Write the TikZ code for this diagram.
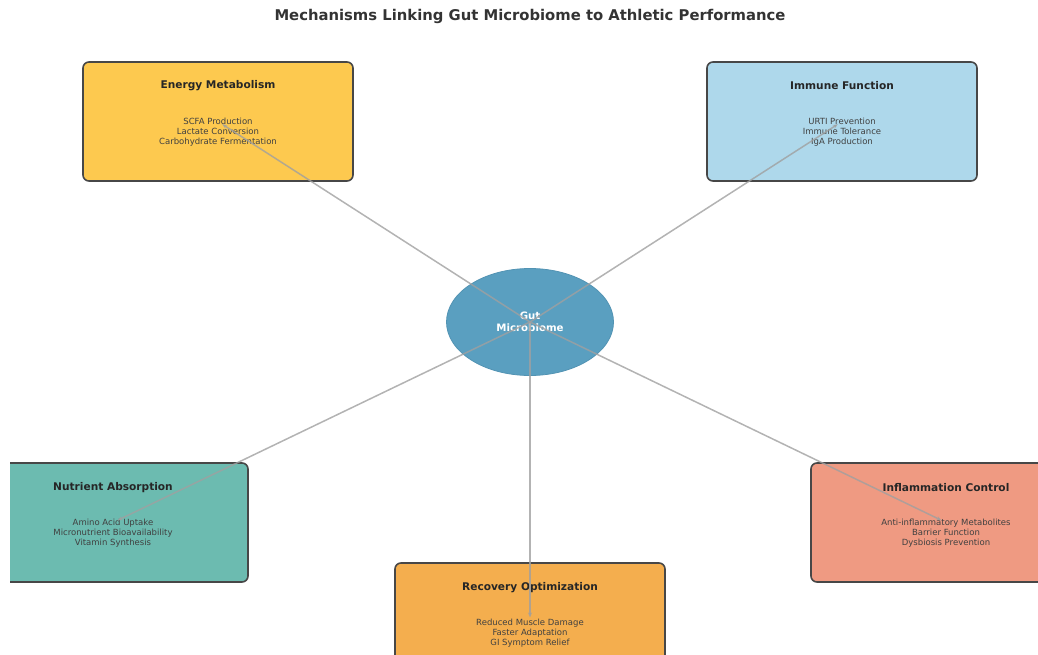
\documentclass[tikz,border=0pt]{standalone}
\usepackage{fontspec}
\setmainfont{DejaVu Sans}
\usetikzlibrary{shapes.geometric,arrows.meta}
\definecolor{cEnergy}{HTML}{FDC94F}
\definecolor{cImmune}{HTML}{AED8EB}
\definecolor{cNutr}{HTML}{6CBBB0}
\definecolor{cRecov}{HTML}{F4AE4E}
\definecolor{cInfl}{HTML}{EF9A82}
\definecolor{cGut}{HTML}{5A9FC0}
\definecolor{cGutB}{HTML}{5293B3}
\definecolor{cBorder}{HTML}{474747}
\definecolor{cLink}{HTML}{A0A0A0}
\tikzset{
  mechbox/.style={draw=cBorder, line width=1.6pt, rounded corners=6pt,
    minimum width=270pt, minimum height=119pt, inner sep=0pt},
  boxtitle/.style={font=\bfseries\fontsize{10.6}{12}\selectfont, text=black!85},
  boxitems/.style={font=\fontsize{8.5}{9.7}\selectfont, text=black!75, align=center},
  link/.style={draw=cLink, line width=1.5pt, opacity=0.8, shorten >=5pt,
    -{Stealth[length=5pt,width=4pt]}},
}
\begin{document}
\begin{tikzpicture}[x=1pt,y=-1pt]
\useasboundingbox (0,0) rectangle (1038,655);
\node[font=\bfseries\fontsize{14.8}{17}\selectfont, text=black!80] (title) at (530,16.5) {Mechanisms Linking Gut Microbiome to Athletic Performance};
\begin{scope}
\clip (10,0) rectangle (1038,655);
\node[mechbox, fill=cEnergy] (energy) at (218,121.5) {};
\node[mechbox, fill=cImmune] (immune) at (842,121.5) {};
\node[mechbox, fill=cNutr] (nutr) at (113,522.5) {};
\node[mechbox, fill=cRecov] (recov) at (530,622.5) {};
\node[mechbox, fill=cInfl] (infl) at (946,522.5) {};
\end{scope}
% texts
\node[boxtitle] (energyT) at (218,85.5) {Energy Metabolism};
\node[boxitems] (energyI) at (218,132) {SCFA Production\\Lactate Conversion\\Carbohydrate Fermentation};
\node[boxtitle] (immuneT) at (842,85.5) {Immune Function};
\node[boxitems] (immuneI) at (842,132) {URTI Prevention\\Immune Tolerance\\IgA Production};
\node[boxtitle] (nutrT) at (113,487.5) {Nutrient Absorption};
\node[boxitems] (nutrI) at (113,533) {Amino Acid Uptake\\Micronutrient Bioavailability\\Vitamin Synthesis};
\node[boxtitle] (recovT) at (530,587.5) {Recovery Optimization};
\node[boxitems] (recovI) at (530,633) {Reduced Muscle Damage\\Faster Adaptation\\GI Symptom Relief};
\node[boxtitle] (inflT) at (946,487.5) {Inflammation Control};
\node[boxitems] (inflI) at (946,533) {Anti-inflammatory Metabolites\\Barrier Function\\Dysbiosis Prevention};
% centre
\node[ellipse, fill=cGut, draw=cGutB, line width=0.8pt, minimum width=167pt, minimum height=107pt, inner sep=0pt] (gut) at (530,322) {};
\node[font=\bfseries\fontsize{10.2}{12}\selectfont, text=white, align=center] (gutT) at (530,321.5) {Gut\\Microbiome};
% links
\coordinate (eE) at (218,121.5);
\coordinate (eI) at (842,121.5);
\coordinate (eN) at (113,522.5);
\coordinate (eR) at (530,622.5);
\coordinate (eF) at (946,522.5);
\draw[link] (gut.center) -- (eE);
\draw[link] (gut.center) -- (eI);
\draw[link] (gut.center) -- (eN);
\draw[link] (gut.center) -- (eR);
\draw[link] (gut.center) -- (eF);
\end{tikzpicture}
\end{document}
